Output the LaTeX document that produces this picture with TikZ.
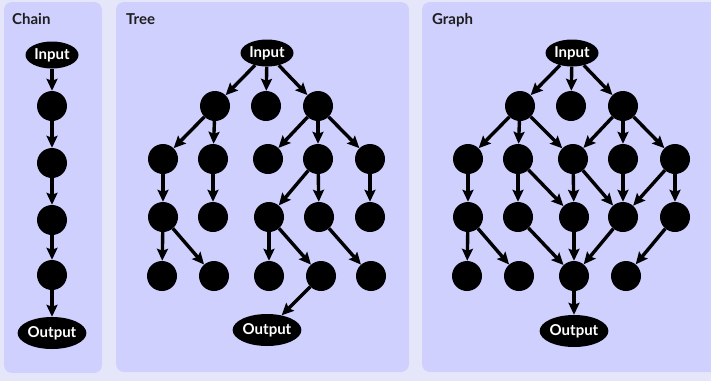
\documentclass[tikz,border=0pt]{standalone}
\usepackage{fontspec}
\setmainfont{Lato}
\usetikzlibrary{arrows.meta,shapes.geometric}

\definecolor{pagebg}{RGB}{230,230,250}
\definecolor{panelbg}{RGB}{208,208,255}
\definecolor{titlecol}{RGB}{30,30,30}

\tikzset{
    panel/.style = {fill = panelbg, rounded corners = 8pt},
    title/.style = {anchor = base west, inner sep = 0pt, font = \fontsize{15}{17}\selectfont\bfseries, text = titlecol},
    dot/.style = {circle, fill = black, minimum size = 30pt, inner sep = 0pt},
    io/.style = {ellipse, fill = black, text = white, inner sep = 0pt,
                 font = \fontsize{15}{17}\selectfont\bfseries},
    arr/.style = {-{Stealth[length = 12pt, width = 11pt, inset = 2pt]}, line width = 3.4pt}
}

\begin{document}
\begin{tikzpicture}[x = 1pt, y = -1pt]
    \useasboundingbox [fill = pagebg] (0,0) rectangle (711,381);
    % panels
    \fill [panel] (4,2) rectangle (102,373);
    \fill [panel] (116,2) rectangle (409,372);
    \fill [panel] (422,2) rectangle (720,372);
    \node (tchain) at (12,24) [title] {Chain};
    \node (ttree) at (126,24) [title] {Tree};
    \node (tgraph) at (432,24) [title] {Graph};

    % chain
    \node (cin) at (52,55) [io, minimum width = 53pt, minimum height = 27pt] {Input};
    \node (c1) at (52,106) [dot] {};
    \node (c2) at (52,163) [dot] {};
    \node (c3) at (52,220) [dot] {};
    \node (c4) at (52,275) [dot] {};
    \node (cout) at (52,333) [io, minimum width = 66pt, minimum height = 32pt] {Output};
    \draw [arr] (cin) -- (c1);
    \draw [arr] (c1) -- (c2);
    \draw [arr] (c2) -- (c3);
    \draw [arr] (c3) -- (c4);
    \draw [arr] (c4) -- (cout);

    % tree
    \node (tin) at (267,53) [io, minimum width = 53pt, minimum height = 27pt] {Input};
    \node (t1a) at (215,106) [dot] {};
    \node (t1b) at (266,106) [dot] {};
    \node (t1c) at (318,106) [dot] {};
    \node (t2a) at (163,159) [dot] {};
    \node (t2b) at (213,159) [dot] {};
    \node (t2c) at (268,159) [dot] {};
    \node (t2d) at (318,159) [dot] {};
    \node (t2e) at (370,159) [dot] {};
    \node (t3a) at (163,217) [dot] {};
    \node (t3b) at (213,217) [dot] {};
    \node (t3c) at (269,217) [dot] {};
    \node (t3d) at (319,217) [dot] {};
    \node (t3e) at (370,217) [dot] {};
    \node (t4a) at (162,276) [dot] {};
    \node (t4b) at (214,276) [dot] {};
    \node (t4c) at (269,276) [dot] {};
    \node (t4d) at (321,276) [dot] {};
    \node (t4e) at (371,276) [dot] {};
    \node (tout) at (267,330) [io, minimum width = 66pt, minimum height = 32pt] {Output};
    \draw [arr] (tin) -- (t1a);
    \draw [arr] (tin) -- (t1b);
    \draw [arr] (tin) -- (t1c);
    \draw [arr] (t1a) -- (t2a);
    \draw [arr] (t1a) -- (t2b);
    \draw [arr] (t1c) -- (t2c);
    \draw [arr] (t1c) -- (t2d);
    \draw [arr] (t1c) -- (t2e);
    \draw [arr] (t2a) -- (t3a);
    \draw [arr] (t2b) -- (t3b);
    \draw [arr] (t2d) -- (t3c);
    \draw [arr] (t2d) -- (t3d);
    \draw [arr] (t2e) -- (t3e);
    \draw [arr] (t3a) -- (t4a);
    \draw [arr] (t3a) -- (t4b);
    \draw [arr] (t3c) -- (t4c);
    \draw [arr] (t3c) -- (t4d);
    \draw [arr] (t3d) -- (t4e);
    \draw [arr] (t4d) -- (tout);

    % graph
    \node (gin) at (572,53) [io, minimum width = 53pt, minimum height = 27pt] {Input};
    \node (g1a) at (520,106) [dot] {};
    \node (g1b) at (571,106) [dot] {};
    \node (g1c) at (623,106) [dot] {};
    \node (g2a) at (468,159) [dot] {};
    \node (g2b) at (518,159) [dot] {};
    \node (g2c) at (573,159) [dot] {};
    \node (g2d) at (623,159) [dot] {};
    \node (g2e) at (675,159) [dot] {};
    \node (g3a) at (468,217) [dot] {};
    \node (g3b) at (518,217) [dot] {};
    \node (g3c) at (574,217) [dot] {};
    \node (g3d) at (623,217) [dot] {};
    \node (g3e) at (675,217) [dot] {};
    \node (g4a) at (467,276) [dot] {};
    \node (g4b) at (519,276) [dot] {};
    \node (g4c) at (574,276) [dot] {};
    \node (g4d) at (626,276) [dot] {};
    \node (gout) at (574,331) [io, minimum width = 66pt, minimum height = 32pt] {Output};
    \draw [arr] (gin) -- (g1a);
    \draw [arr] (gin) -- (g1b);
    \draw [arr] (gin) -- (g1c);
    \draw [arr] (g1a) -- (g2a);
    \draw [arr] (g1a) -- (g2b);
    \draw [arr] (g1a) -- (g2c);
    \draw [arr] (g1c) -- (g2c);
    \draw [arr] (g1c) -- (g2d);
    \draw [arr] (g1c) -- (g2e);
    \draw [arr] (g2a) -- (g3a);
    \draw [arr] (g2b) -- (g3b);
    \draw [arr] (g2b) -- (g3c);
    \draw [arr] (g2c) -- (g3c);
    \draw [arr] (g2c) -- (g3d);
    \draw [arr] (g2d) -- (g3d);
    \draw [arr] (g2e) -- (g3d);
    \draw [arr] (g2e) -- (g3e);
    \draw [arr] (g3a) -- (g4a);
    \draw [arr] (g3a) -- (g4b);
    \draw [arr] (g3b) -- (g4c);
    \draw [arr] (g3c) -- (g4c);
    \draw [arr] (g3d) -- (g4c);
    \draw [arr] (g3e) -- (g4d);
    \draw [arr] (g4c) -- (gout);
    \end{tikzpicture}
\end{document}
